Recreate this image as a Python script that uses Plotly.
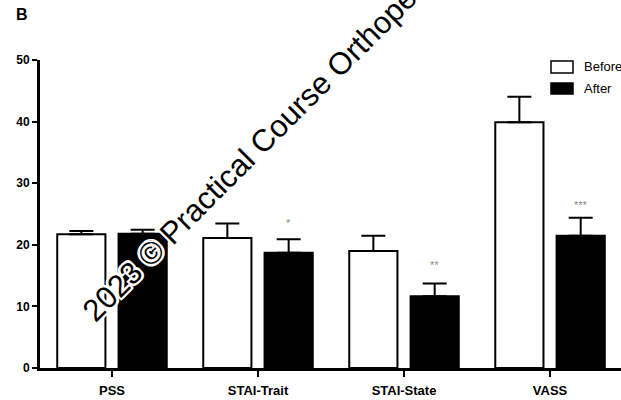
import plotly.graph_objects as go

# Scale scores before and after the intervention (mean with SEM)
categories = ["PSS", "STAI-Trait", "STAI-State", "VASS"]
before_mean = [21.7, 21.1, 19.0, 39.9]
before_sem = [0.55, 2.35, 2.45, 4.15]
after_mean = [21.8, 18.7, 11.65, 21.45]
after_sem = [0.65, 2.2, 2.05, 2.95]
sig_marks = ["*", "**", "***"]
sig_categories = ["STAI-Trait", "STAI-State", "VASS"]
sig_heights = [23.6, 16.7, 26.4]
y_ticks = [0, 10, 20, 30, 40, 50]

FONT = "Arial, Liberation Sans, sans-serif"
x_idx = list(range(len(categories)))

fig = go.Figure()
fig.add_trace(go.Bar(
    x=x_idx, y=before_mean, name="Before",
    width=0.33, offset=-0.375,
    marker=dict(color="white", line=dict(color="black", width=2)),
    error_y=dict(type="data", symmetric=False, array=before_sem,
                 arrayminus=[0] * len(before_sem),
                 color="black", thickness=2, width=12),
    showlegend=False,
))
fig.add_trace(go.Bar(
    x=x_idx, y=after_mean, name="After",
    width=0.33, offset=0.045,
    marker=dict(color="black", line=dict(color="black", width=2)),
    error_y=dict(type="data", symmetric=False, array=after_sem,
                 arrayminus=[0] * len(after_sem),
                 color="black", thickness=2, width=12),
    showlegend=False,
))

annotations = []
for mark, cat, h in zip(sig_marks, sig_categories, sig_heights):
    annotations.append(dict(
        x=categories.index(cat) + 0.21, y=h, xref="x", yref="y",
        text=mark, showarrow=False, yanchor="middle",
        font=dict(family=FONT, size=11, color="#8a8a8a"),
    ))

# Hand-drawn legend (wide swatches)
legend_items = [("Before", "white", 0.9968, 0.9578), ("After", "black", 0.9253, 0.8896)]
shapes = []
for label, fill, y_top, y_bot in legend_items:
    shapes.append(dict(type="rect", xref="paper", yref="paper",
                       x0=0.8795, x1=0.9174, y0=y_bot, y1=y_top,
                       fillcolor=fill, line=dict(color="black", width=1.5)))
    annotations.append(dict(x=0.9329, y=(y_top + y_bot) / 2, xref="paper", yref="paper",
                            text=label, showarrow=False, xanchor="left", yanchor="middle",
                            font=dict(family=FONT, size=13, color="black")))

# Panel letter
annotations.append(dict(x=-0.0448, y=1.148, xref="paper", yref="paper", text="<b>B</b>",
                        showarrow=False, xanchor="left", yanchor="middle",
                        font=dict(family=FONT, size=16, color="black")))

# Copyright overlay, haloed in white so it stays legible over dark bars
halo = ", ".join(f"{dx}px {dy}px 0 #ffffff" for dx in (-2, 0, 2) for dy in (-2, 0, 2)
                 if (dx, dy) != (0, 0))
annotations.append(dict(x=0.395, y=0.7584, xref="paper", yref="paper",
                        text="2023 © Practical Course Orthopedics",
                        showarrow=False, textangle=-45, xanchor="center", yanchor="middle",
                        font=dict(family=FONT, size=31, color="black", shadow=halo)))

fig.update_layout(
    width=621, height=400,
    margin=dict(l=40, r=0, t=60, b=32),
    plot_bgcolor="white", paper_bgcolor="white",
    shapes=shapes, annotations=annotations,
    xaxis=dict(
        range=[-0.493, 3.486], tickmode="array", tickvals=x_idx,
        ticktext=[f"<b>{c}</b>" for c in categories],
        showline=True, linecolor="black", linewidth=3,
        ticks="outside", ticklen=6, tickwidth=2, tickcolor="black",
        ticklabelstandoff=2,
        showgrid=False, zeroline=False,
        tickfont=dict(family=FONT, size=13, color="black"),
    ),
    yaxis=dict(
        range=[0, 50], tickmode="array", tickvals=y_ticks,
        ticktext=[f"<b>{t}</b>" for t in y_ticks],
        showline=True, linecolor="black", linewidth=3,
        ticks="outside", ticklen=5, tickwidth=2, tickcolor="black",
        showgrid=False, zeroline=False,
        tickfont=dict(family=FONT, size=12, color="black"),
    ),
)

fig.write_html("out.html")
